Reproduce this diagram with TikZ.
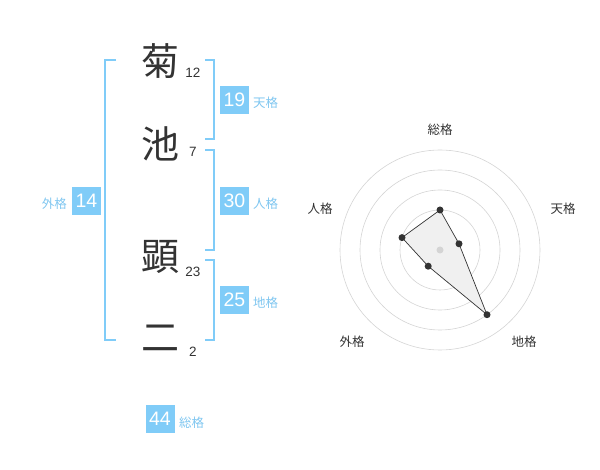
\documentclass[tikz,border=0pt]{standalone}
\usepackage{fontspec}
\setmainfont{Liberation Sans}
\newfontfamily\cjk{Noto Sans CJK JP}
\definecolor{kblue}{HTML}{80CCF8}
\definecolor{klabel}{HTML}{7FC6F0}
\definecolor{kdark}{HTML}{333333}
\definecolor{kgrid}{HTML}{D4D4D4}
\begin{document}
\begin{tikzpicture}[x=1pt,y=-1pt,
  kanji/.style={text=kdark,font=\cjk\fontsize{38}{38}\selectfont,inner sep=0pt},
  stroke/.style={text=kdark,font=\fontsize{13.5}{13.5}\selectfont,inner sep=0pt},
  valbox/.style={fill=kblue,text=white,minimum width=29pt,minimum height=28pt,inner sep=0pt,font=\fontsize{19.5}{19.5}\selectfont},
  kakulabel/.style={text=klabel,font=\cjk\fontsize{12.5}{12.5}\selectfont,inner sep=0pt},
  bracket/.style={draw=kblue,line width=1.6pt},
  ring/.style={draw=kgrid,line width=0.6pt},
  radlabel/.style={text=kdark,font=\cjk\fontsize{12.5}{12.5}\selectfont,inner sep=0pt},
  pt/.style={circle,fill=kdark,inner sep=0pt,minimum size=7pt}]
\useasboundingbox (0,0) rectangle (600,470);
% characters
\node[kanji] (c1) at (160,61) {菊};
\node[kanji] (c2) at (160,144) {池};
\node[kanji] (c3) at (160,257) {顕};
\node[kanji] (c4) at (160,338) {二};
\node[stroke] (n1) at (193,73) {12};
\node[stroke] (n2) at (193,152) {7};
\node[stroke] (n3) at (193,272) {23};
\node[stroke] (n4) at (193,352) {2};
% brackets
\coordinate (lt) at (116,60); \coordinate (lb) at (116,340);
\draw[bracket] (lt) -- ++(-11,0) |- (lb);
\coordinate (t1) at (205,60); \coordinate (t2) at (205,139);
\draw[bracket] (t1) -- ++(9,0) |- (t2);
\coordinate (j1) at (205,150); \coordinate (j2) at (205,250);
\draw[bracket] (j1) -- ++(9,0) |- (j2);
\coordinate (d1) at (205,260); \coordinate (d2) at (205,340);
\draw[bracket] (d1) -- ++(9,0) |- (d2);
% value boxes
\node[valbox] (b19) at (234.5,100) {19};
\node[kakulabel,anchor=west] (l19) at (253,103) {天格};
\node[valbox] (b30) at (234.5,201) {30};
\node[kakulabel,anchor=west] (l30) at (253,204) {人格};
\node[valbox] (b25) at (234.5,300) {25};
\node[kakulabel,anchor=west] (l25) at (253,303) {地格};
\node[valbox] (b14) at (86.5,201) {14};
\node[kakulabel,anchor=east] (l14) at (67,204) {外格};
\node[valbox] (b44) at (160,419) {44};
\node[kakulabel,anchor=west] (l44) at (179,423) {総格};
% radar
\coordinate (ctr) at (440,250);
\foreach \r in {20,40,60,80,100} \draw[ring] (ctr) circle (\r);
\coordinate (ps) at (440,210);
\coordinate (pt1) at (459.0,243.8);
\coordinate (pc) at (487.0,314.7);
\coordinate (pg) at (428.2,266.2);
\coordinate (pj) at (402.0,237.6);
\fill[black!6] (ps) -- (pt1) -- (pc) -- (pg) -- (pj) -- cycle;
\draw[kdark,line width=0.7pt] (ps) -- (pt1) -- (pc) -- (pg) -- (pj) -- cycle;
\node[circle,fill=kgrid,inner sep=0pt,minimum size=7pt] (cdot) at (ctr) {};
\foreach \n in {ps,pt1,pc,pg,pj} \node[pt] at (\n) {};
\node[radlabel] (r1) at (440,130) {総格};
\node[radlabel] (r2) at (563,209) {天格};
\node[radlabel] (r3) at (320,209) {人格};
\node[radlabel] (r4) at (352,342) {外格};
\node[radlabel] (r5) at (524,342) {地格};
\end{tikzpicture}
\end{document}
